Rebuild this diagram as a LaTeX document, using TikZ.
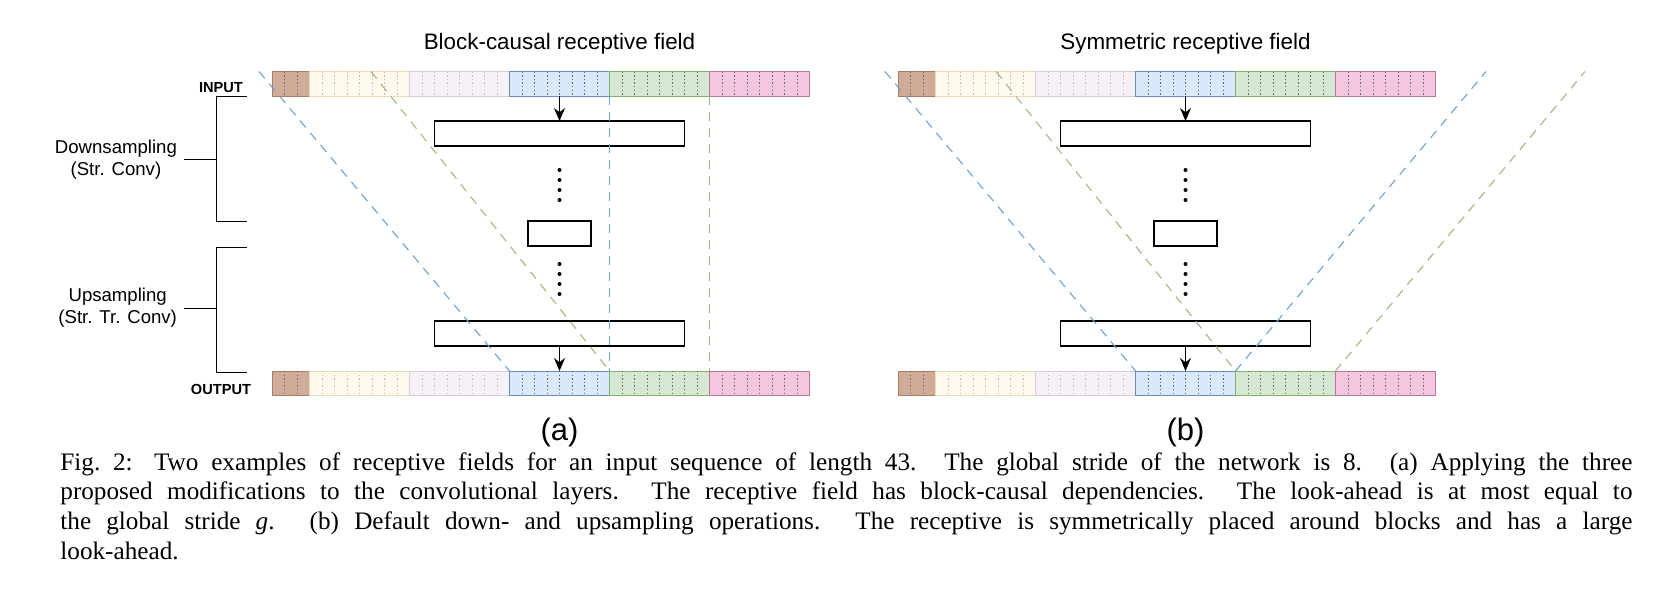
\documentclass[tikz,border=0pt]{standalone}
\usepackage{fontspec}
\setmainfont{Liberation Serif}
\setsansfont{Liberation Sans}
\usetikzlibrary{arrows.meta}

\definecolor{brownF}{HTML}{D0AB98}
\definecolor{brownD}{HTML}{A67E66}
\definecolor{yelF}{HTML}{FFF8EC}
\definecolor{yelD}{HTML}{EADBB5}
\definecolor{lavF}{HTML}{F5F1F7}
\definecolor{lavD}{HTML}{D6CCDC}
\definecolor{bluF}{HTML}{DAE8FC}
\definecolor{bluD}{HTML}{6C8EBF}
\definecolor{grnF}{HTML}{D5E8D4}
\definecolor{grnD}{HTML}{82B366}
\definecolor{pnkF}{HTML}{F5C6E0}
\definecolor{pnkD}{HTML}{B87A9C}
\definecolor{sepdark}{HTML}{666666}
\definecolor{seplight}{HTML}{C2BCB5}
\definecolor{rfblue}{HTML}{6AA3D3}
\definecolor{rfgreen}{HTML}{9DB982}

\begin{document}
\begin{tikzpicture}[x=0.5pt, y=-0.5pt,
  blk/.style={draw, line width=0.5pt, inner sep=0pt, outer sep=0pt, anchor=north west, minimum height=12.25pt},
  cellsep/.style={line width=0.35pt, dash pattern=on 0.7pt off 1.1pt},
  layer/.style={draw, line width=0.8pt, inner sep=0pt, outer sep=0pt, minimum height=12.5pt},
  flow/.style={-{Stealth[length=6.5pt, width=5.5pt]}, line width=0.7pt},
  rf/.style={line width=0.55pt, dash pattern=on 4.5pt off 3.5pt},
  lbl/.style={font=\sffamily\fontsize{9.3}{11}\selectfont, align=center, anchor=east},
  io/.style={font=\sffamily\bfseries\fontsize{7.3}{8}\selectfont, inner sep=0pt},
  ttl/.style={font=\sffamily\fontsize{11.2}{13}\selectfont, inner sep=0pt, anchor=base},
  sub/.style={font=\sffamily\fontsize{15.5}{18}\selectfont, inner sep=0pt},
  capt/.style={anchor=north west, inner sep=0pt, text width=786pt, align=justify,
    font=\fontsize{12.6}{14.9}\selectfont}]
\useasboundingbox (0,0) rectangle (1654,602);
%
\foreach \p/\dx in {a/0, b/626} {
  \foreach \r/\y in {in/71.5, out/371} {
    \foreach \k/\s/\n/\fc/\dc/\lc in {0/0/3/brownF/brownD/sepdark, 1/3/8/yelF/yelD/seplight,
        2/11/8/lavF/lavD/seplight, 3/19/8/bluF/bluD/sepdark, 4/27/8/grnF/grnD/sepdark,
        5/35/8/pnkF/pnkD/sepdark} {
      \node[blk, minimum width=\n*6.25pt, fill=\fc, draw=\dc] (\p-\r\k) at (272+\dx+\s*12.5, \y) {};
      \pgfmathtruncatemacro\m{\n-1}
      \foreach \j in {1,...,\m}
        \draw[cellsep, \lc] ([xshift=\j*6.25pt]\p-\r\k.north west) -- ([xshift=\j*6.25pt]\p-\r\k.south west);
    }
  }
  %
  \node[layer, minimum width=125pt] (\p-L1) at (559.5+\dx, 133.5) {};
  \node[layer, minimum width=31.5pt] (\p-L2) at (559.5+\dx, 233.5) {};
  \node[layer, minimum width=125pt] (\p-L3) at (559.5+\dx, 333.5) {};
  \draw[flow] (\p-in3.south) -- (\p-L1.north);
  \draw[flow] (\p-L3.south) -- (\p-out3.north);
  \foreach \d in {170,180,190,200,264,274,284,294}
    \fill (559.5+\dx, \d) circle (1pt);
}
%
\coordinate (aTopB) at (259,71.5);
\coordinate (aTopG) at (371,71.5);
\draw[rf, rfblue] (aTopB) -- (a-out3.north west);
\draw[rf, rfgreen] (aTopG) -- (a-out4.north west);
\draw[rf, rfblue] (a-in4.south west) -- (a-out4.north west);
\draw[rf, rfgreen] (a-in5.south west) -- (a-out5.north west);
%
\coordinate (bTopBl) at (885,71.5);
\coordinate (bTopBr) at (1486,71.5);
\coordinate (bTopGl) at (996,71.5);
\coordinate (bTopGr) at (1585,71.5);
\draw[rf, rfblue] (bTopBl) -- (b-out3.north west);
\draw[rf, rfblue] (b-out3.north east) -- (bTopBr);
\draw[rf, rfgreen] (bTopGl) -- (b-out4.north west);
\draw[rf, rfgreen] (b-out4.north east) -- (bTopGr);
%
\draw[line width=0.5pt] (247,96) -- (216,96) -- (216,221) -- (247,221);
\draw[line width=0.5pt] (247,247) -- (216,247) -- (216,372) -- (247,372);
\node[lbl] (down) at (184,160) {Downsampling\\(Str. Conv)};
\node[lbl] (up) at (184,308) {Upsampling\\(Str. Tr. Conv)};
\coordinate (downTick) at (216,159);
\coordinate (upTick) at (216,308);
\draw[line width=0.5pt] (down.east |- downTick) -- (downTick);
\draw[line width=0.5pt] (up.east |- upTick) -- (upTick);
\node[io] (input) at (221,88) {INPUT};
\node[io] (output) at (221,389) {OUTPUT};
%
\node[ttl] (titleA) at (559.5,49) {Block-causal receptive field};
\node[ttl] (titleB) at (1185.5,49) {Symmetric receptive field};
\node[sub] (subA) at (559.5,432) {(a)};
\node[sub] (subB) at (1185.5,432) {(b)};
%
\node[capt] (caption) at (60,452) {Fig.\ 2: Two examples of receptive fields for an input sequence of length 43. The global stride of the network is 8. (a) Applying the three\linebreak
proposed modifications to the convolutional layers. The receptive field has block-causal dependencies. The look-ahead is at most equal to\linebreak
the global stride {\itshape g}. (b) Default down- and upsampling operations. The receptive is symmetrically placed around blocks and has a large\linebreak
look-ahead.};
%%%%%%%%%%%%%%%%%%%%%%%%%%%%%%%
\end{tikzpicture}
\end{document}
